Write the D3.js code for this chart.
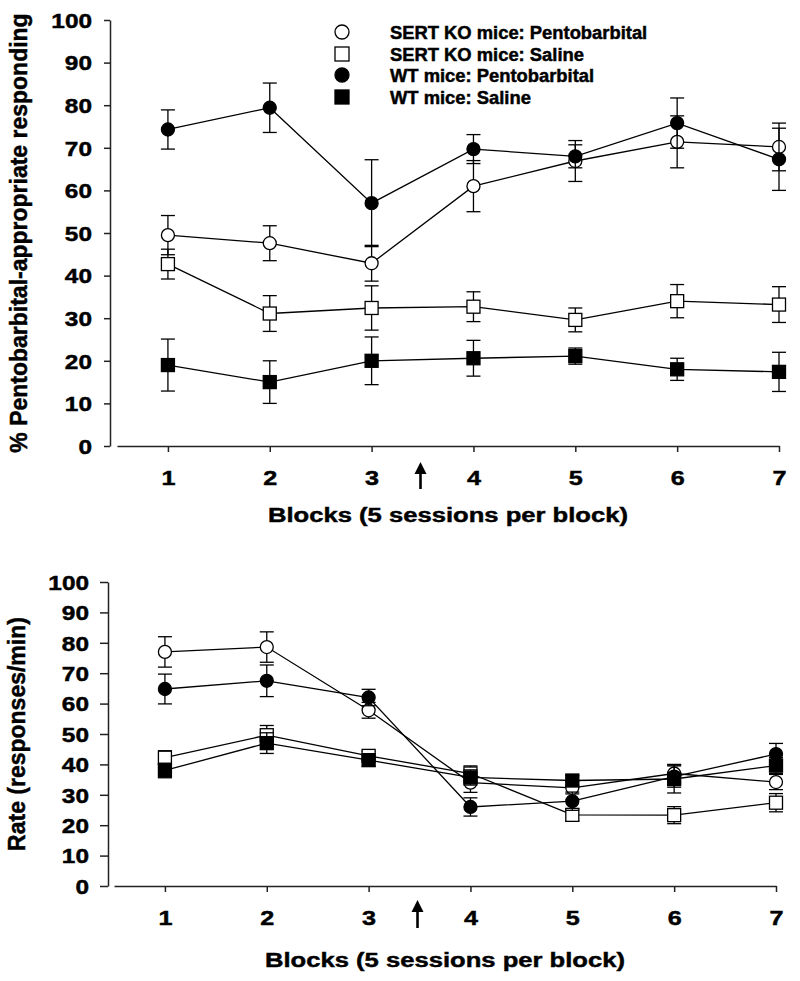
<!DOCTYPE html>
<html><head><meta charset="utf-8">
<script src="https://cdn.jsdelivr.net/npm/d3@7"></script>
<style>body{margin:0;background:#fff}svg{display:block}</style>
</head><body>
<svg id="c" width="800" height="981"></svg>
<script>
// ---------- data ----------
const blocks = [1, 2, 3, 4, 5, 6, 7];
const yTicks = [0, 10, 20, 30, 40, 50, 60, 70, 80, 90, 100];
const seriesNames = ["SERT KO mice: Pentobarbital", "SERT KO mice: Saline", "WT mice: Pentobarbital", "WT mice: Saline"];
const seriesShapes = ["circle", "square", "circle", "square"];
const seriesFills = ["#ffffff", "#ffffff", "#000000", "#000000"];
const arrowBlock = 3.48;

// Panel A: % pentobarbital-appropriate responding
const pctKoPento    = [49.5, 47.6, 42.9, 61.0, 66.9, 71.4, 70.2];
const pctKoPentoSE  = [4.6, 4.1, 4.2, 6.0, 4.8, 6.1, 5.6];
const pctKoSaline   = [42.7, 31.1, 32.4, 32.7, 29.6, 34.0, 33.2];
const pctKoSalineSE = [3.5, 4.2, 5.2, 3.5, 2.8, 3.9, 4.2];
const pctWtPento    = [74.3, 79.4, 57.0, 69.7, 68.0, 75.8, 67.3];
const pctWtPentoSE  = [4.6, 5.8, 10.2, 3.4, 2.7, 5.9, 7.3];
const pctWtSaline   = [19.0, 15.0, 20.0, 20.6, 21.1, 18.0, 17.4];
const pctWtSalineSE = [6.1, 5.0, 5.6, 4.2, 1.9, 2.6, 4.6];

// Panel B: response rate (responses/min)
const rateKoPento    = [77.0, 78.6, 57.8, 34.0, 32.3, 37.0, 34.2];
const rateKoPentoSE  = [5.0, 5.0, 2.6, 3.2, 2.0, 3.0, 2.5];
const rateKoSaline   = [42.2, 49.6, 42.8, 37.0, 23.4, 23.3, 27.4];
const rateKoSalineSE = [2.3, 3.2, 1.5, 2.5, 2.0, 2.8, 3.0];
const rateWtPento    = [64.8, 67.5, 62.0, 26.0, 27.9, 36.0, 43.4];
const rateWtPentoSE  = [4.9, 5.2, 2.7, 3.0, 3.0, 3.5, 3.5];
const rateWtSaline   = [38.0, 47.0, 41.4, 35.7, 34.7, 35.2, 39.6];
const rateWtSalineSE = [2.4, 3.4, 2.0, 2.5, 1.6, 4.6, 2.6];

// ---------- drawing ----------
const svg = d3.select("#c");
const FONT = "'Liberation Sans', Arial, Helvetica, sans-serif";

function styleText(sel, fs) {
  return sel.attr("font-family", FONT).attr("font-weight", "bold")
    .attr("font-size", fs).attr("fill", "#000")
    .attr("stroke", "#000").attr("stroke-width", 0.45);
}

function txt(g, x, y, s, fs, sx, sy, anchor, rot) {
  const t = g.append("text")
    .attr("transform", `translate(${x},${y})` + (rot ? ` rotate(${rot})` : "") + ` scale(${sx},${sy})`)
    .attr("text-anchor", anchor).text(s);
  return styleText(t, fs);
}

function drawMarker(g, shape, fill, cx, cy, size) {
  if (shape === "circle") {
    g.append("circle").attr("cx", cx).attr("cy", cy).attr("r", size / 2)
      .attr("fill", fill).attr("stroke", "#000").attr("stroke-width", 1.3);
  } else {
    g.append("rect").attr("x", cx - size / 2).attr("y", cy - size / 2)
      .attr("width", size).attr("height", size)
      .attr("fill", fill).attr("stroke", "#000").attr("stroke-width", 1.3);
  }
}

function panel(cfg) {
  const x = d3.scaleLinear().domain([0.5, 7]).range(cfg.xRange);
  const y = d3.scaleLinear().domain([0, 100]).range(cfg.yRange);
  const g = svg.append("g");

  // axes
  const ya = g.append("g").attr("transform", `translate(${cfg.yAxisX},0)`)
    .call(d3.axisLeft(y).tickValues(yTicks).tickFormat(d3.format("d"))
      .tickSize(cfg.yTickLen).tickSizeOuter(0).tickPadding(0));
  styleText(ya.selectAll("text"), 20)
    .attr("x", -(cfg.yLabelGap) / 1.22).attr("dy", "0.36em")
    .attr("transform", "scale(1.22,1)");
  const xa = g.append("g").attr("transform", `translate(0,${cfg.yRange[0]})`)
    .call(d3.axisBottom(x).tickValues(blocks).tickFormat(d3.format("d"))
      .tickSize(6).tickSizeOuter(0).tickPadding(0));
  styleText(xa.selectAll("text"), 21).attr("y", 24).attr("dy", "0.71em")
    .attr("transform", "scale(1.2,1)");
  g.selectAll(".domain, .tick line").attr("stroke", "#222").attr("stroke-width", 1.5);

  // arrow
  const ax = x(arrowBlock), ab = cfg.yRange[0] + cfg.arrowBottom, at = cfg.yRange[0] + cfg.arrowTop;
  g.append("line").attr("x1", ax).attr("x2", ax).attr("y1", ab).attr("y2", at + 8)
    .attr("stroke", "#000").attr("stroke-width", 2.6);
  g.append("path").attr("d", `M${ax - 6},${at + 12}L${ax},${at}L${ax + 6},${at + 12}Z`).attr("fill", "#000");

  // series
  const line = d3.line().x((d, i) => x(blocks[i])).y(d => y(d));
  cfg.series.forEach((s, k) => {
    const sg = g.append("g");
    sg.append("path").datum(s.v).attr("d", line).attr("fill", "none")
      .attr("stroke", "#000").attr("stroke-width", 1.3);
    s.v.forEach((v, i) => {
      const cx = x(blocks[i]);
      const t = y(v + s.e[i]), b = y(v - s.e[i]);
      sg.append("line").attr("x1", cx).attr("x2", cx).attr("y1", t).attr("y2", b).attr("stroke", "#000").attr("stroke-width", 1.3);
      sg.append("line").attr("x1", cx - 7).attr("x2", cx + 7).attr("y1", t).attr("y2", t).attr("stroke", "#000").attr("stroke-width", 1.3);
      sg.append("line").attr("x1", cx - 7).attr("x2", cx + 7).attr("y1", b).attr("y2", b).attr("stroke", "#000").attr("stroke-width", 1.3);
    });
    s.v.forEach((v, i) => drawMarker(sg, seriesShapes[k], seriesFills[k], x(blocks[i]), y(v), 13));
  });

  // titles
  txt(g, (cfg.xRange[0] + cfg.xRange[1]) / 2, cfg.xTitleY, "Blocks (5 sessions per block)", 21, 1.22, 1, "middle");
  txt(g, cfg.yTitleX, (cfg.yRange[0] + cfg.yRange[1]) / 2, cfg.yTitle, 23, 1, 1.08, "middle", -90);
  return g;
}

panel({
  xRange: [117, 779], yRange: [446, 20], yAxisX: 110, yTickLen: 6, yLabelGap: 18,
  arrowTop: 16, arrowBottom: 43, xTitleY: 522, yTitleX: 27,
  yTitle: "% Pentobarbital-appropriate responding",
  series: [
    { v: pctKoPento, e: pctKoPentoSE },
    { v: pctKoSaline, e: pctKoSalineSE },
    { v: pctWtPento, e: pctWtPentoSE },
    { v: pctWtSaline, e: pctWtSalineSE }
  ]
});

panel({
  xRange: [114, 776], yRange: [886, 582], yAxisX: 108, yTickLen: 8, yLabelGap: 19,
  arrowTop: 14, arrowBottom: 42, xTitleY: 967, yTitleX: 25,
  yTitle: "Rate (responses/min)",
  series: [
    { v: rateKoPento, e: rateKoPentoSE },
    { v: rateKoSaline, e: rateKoSalineSE },
    { v: rateWtPento, e: rateWtPentoSE },
    { v: rateWtSaline, e: rateWtSalineSE }
  ]
});

// legend
const lg = svg.append("g");
const legendRows = [32, 54, 75, 97];
seriesNames.forEach((n, k) => {
  drawMarker(lg, seriesShapes[k], seriesFills[k], 342, legendRows[k], 14);
  txt(lg, 390, legendRows[k] + 6.5, n, 17.5, 1.05, 1, "start");
});
</script>
</body></html>
